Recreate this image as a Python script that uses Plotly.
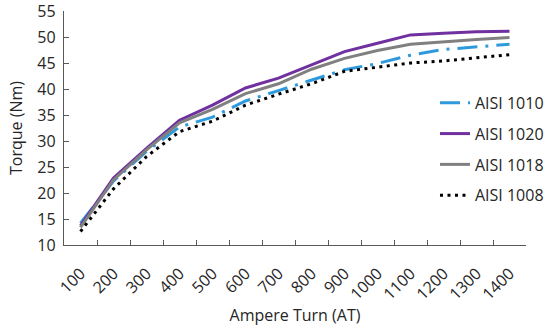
import plotly.graph_objects as go

ampere_turns = ["100", "200", "300", "400", "500", "600", "700",
                "800", "900", "1000", "1100", "1200", "1300", "1400"]
aisi_1010 = [14.2, 22.3, 28.0, 32.7, 34.6, 37.7, 39.7, 41.7, 43.7, 44.9, 46.5, 47.6, 48.1, 48.6]
aisi_1020 = [13.7, 22.9, 28.6, 34.0, 36.9, 40.2, 42.1, 44.6, 47.2, 48.8, 50.4, 50.7, 51.0, 51.1]
aisi_1018 = [13.4, 22.5, 28.3, 33.5, 36.1, 39.1, 41.0, 43.8, 45.9, 47.4, 48.6, 49.1, 49.5, 49.9]
aisi_1008 = [12.6, 20.8, 27.0, 31.8, 33.8, 36.9, 39.0, 41.0, 43.4, 44.2, 45.0, 45.4, 46.0, 46.6]
y_ticks = [10, 15, 20, 25, 30, 35, 40, 45, 50, 55]

FONT = "Open Sans"
AXIS_COLOR = "#595959"
PAD = "\u00a0"

series = [
    ("AISI 1010", aisi_1010, dict(color="#2F9ADB", width=3, dash="20px,8px,3px,8px")),
    ("AISI 1020", aisi_1020, dict(color="#7030A0", width=3)),
    ("AISI 1018", aisi_1018, dict(color="#808080", width=3)),
    ("AISI 1008", aisi_1008, dict(color="#000000", width=3, dash="3px,4.5px")),
]

fig = go.Figure()
for name, vals, line in series:
    fig.add_trace(go.Scatter(x=ampere_turns, y=vals, name=name, mode="lines",
                             line=line, legendgroup=name))

fig.update_layout(
    width=550, height=327,
    margin=dict(l=64, r=24, t=11, b=82, autoexpand=False),
    paper_bgcolor="white", plot_bgcolor="white",
    font=dict(family=FONT, size=16, color="#262626"),
    showlegend=True,
    legend=dict(x=0.803, y=0.68, xanchor="left", yanchor="top",
                bgcolor="rgba(0,0,0,0)", font=dict(size=16, color="#262626"),
                traceorder="grouped", tracegroupgap=7, itemwidth=30),
    xaxis=dict(
        type="category", showgrid=False, zeroline=False, automargin=False,
        showline=True, linecolor=AXIS_COLOR, linewidth=1,
        ticks="inside", ticklen=5, tickcolor=AXIS_COLOR, tickson="boundaries",
        tickangle=-45, ticklabelstandoff=12, tickfont=dict(size=16),
        ticklabeloverflow="allow",
        title=dict(text="Ampere Turn (AT)", font=dict(size=16), standoff=2),
        range=[-0.5, 13.5],
    ),
    yaxis=dict(
        range=[10, 55], tickmode="array", tickvals=y_ticks,
        ticktext=[f"{v}{PAD}" for v in y_ticks],
        ticklabeloverflow="allow",
        showgrid=False, zeroline=False, automargin=False,
        showline=True, linecolor=AXIS_COLOR, linewidth=1,
        ticks="inside", ticklen=5, tickcolor=AXIS_COLOR,
        tickfont=dict(size=16),
        title=dict(text="Torque (Nm)", font=dict(size=16), standoff=10),
    ),
)

fig.write_html("out.html", config={"displayModeBar": False},
               post_script="document.body.style.margin='0';")
